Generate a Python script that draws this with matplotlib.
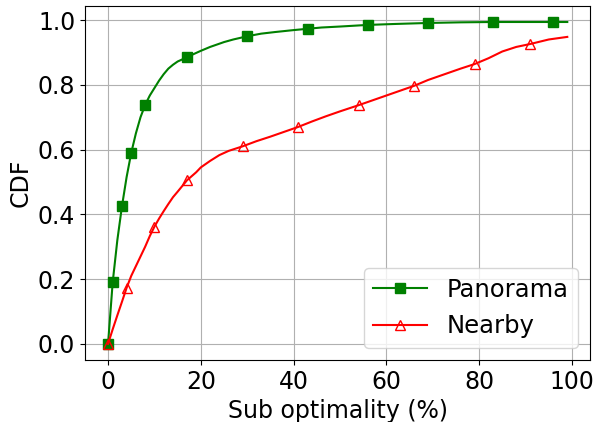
import matplotlib
matplotlib.use('Agg')
import matplotlib.pyplot as plt

# values
panorama_x = [0, 1, 2, 3, 4, 5, 6, 7, 8, 9, 10, 11, 12, 13, 14, 15, 17, 18, 20, 22, 25, 27, 30, 33, 36, 40, 43,
              46, 50, 56, 62, 69, 76, 83, 90, 96, 99]
panorama_y = [0, 0.19, 0.32, 0.425, 0.515, 0.59, 0.65, 0.70, 0.738, 0.767, 0.79, 0.813, 0.833, 0.85, 0.862, 0.872,
              0.885, 0.892, 0.905, 0.917, 0.932, 0.94, 0.95, 0.958, 0.963, 0.969, 0.973, 0.977, 0.98, 0.985, 0.988,
              0.991, 0.993, 0.994, 0.994, 0.994, 0.994]
panorama_marks = [0, 1, 3, 5, 8, 17, 30, 43, 56, 69, 83, 96]

nearby_x = [0, 1, 2, 3, 4, 5, 6, 7, 8, 9, 10, 11, 12, 13, 14, 15, 17, 19, 20, 22, 24, 26, 29, 32, 35, 38, 41, 44,
            47, 50, 54, 57, 60, 63, 66, 69, 73, 76, 79, 82, 85, 88, 91, 95, 99]
nearby_y = [0, 0.045, 0.088, 0.13, 0.173, 0.21, 0.24, 0.27, 0.30, 0.333, 0.362, 0.387, 0.41, 0.432, 0.453, 0.47,
            0.505, 0.53, 0.545, 0.565, 0.583, 0.596, 0.61, 0.626, 0.64, 0.655, 0.67, 0.687, 0.703, 0.718, 0.737,
            0.752, 0.767, 0.782, 0.797, 0.815, 0.835, 0.85, 0.864, 0.882, 0.903, 0.917, 0.926, 0.94, 0.948]
nearby_marks = [0, 4, 10, 17, 29, 41, 54, 66, 79, 91]


def main():
    fs = 17
    fig, ax = plt.subplots(figsize=(5.95, 4.22), dpi=100)

    ax.plot(panorama_x, panorama_y, color='green', marker='s', markersize=7, linewidth=1.5,
            markevery=[panorama_x.index(m) for m in panorama_marks], label='Panorama')
    ax.plot(nearby_x, nearby_y, color='red', marker='^', markersize=7.5, markerfacecolor='none',
            linewidth=1.5, markevery=[nearby_x.index(m) for m in nearby_marks], label='Nearby')

    ax.set_xlabel('Sub optimality (%)', fontsize=fs)
    ax.set_ylabel('CDF', fontsize=fs)
    ax.tick_params(labelsize=fs)
    ax.set_xticks([0, 20, 40, 60, 80, 100])
    ax.set_yticks([0.0, 0.2, 0.4, 0.6, 0.8, 1.0])
    ax.grid(True)
    ax.legend(loc='lower right', fontsize=17.5, handlelength=2.2)

    plt.subplots_adjust(left=0.143, right=0.992, top=0.986, bottom=0.147)
    fig.savefig('out.png', dpi=100)


if __name__ == '__main__':
    main()
